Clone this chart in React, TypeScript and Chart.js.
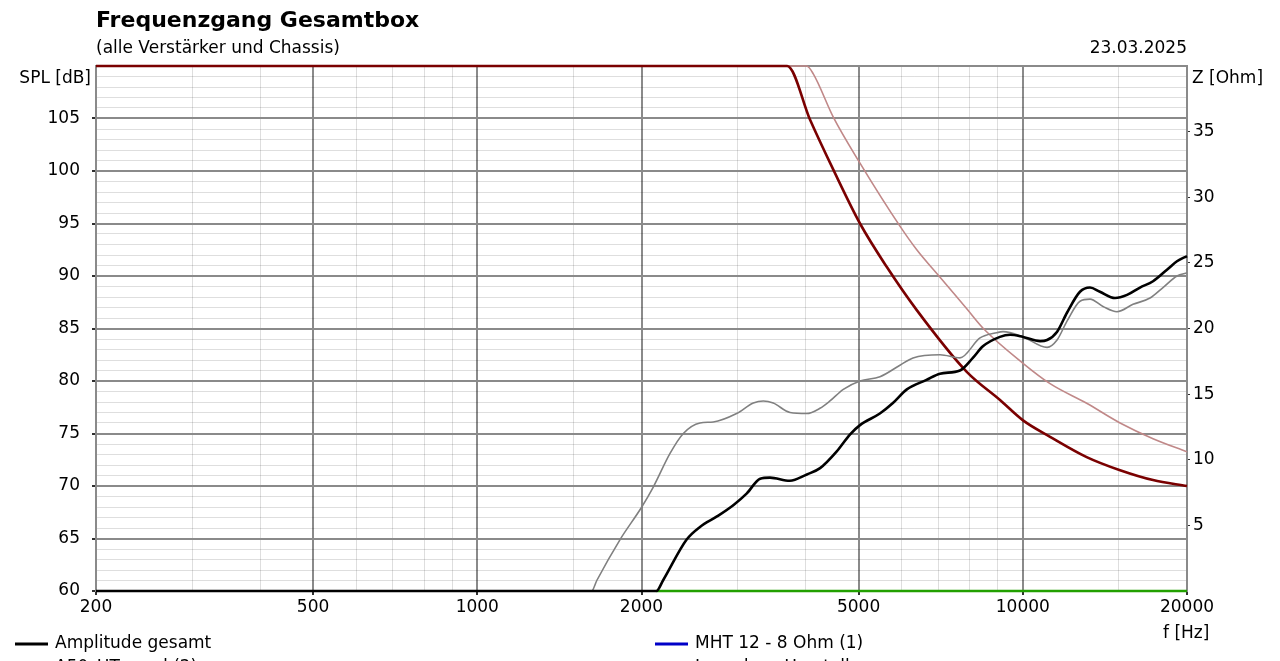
import React, { useEffect, useRef } from 'react';
import { Chart, registerables } from 'chart.js';

Chart.register(...registerables);

const FONT = '"DejaVu Sans", Verdana, sans-serif';

// ---- text ----
const titleText = 'Frequenzgang Gesamtbox';
const subtitleText = '(alle Verstärker und Chassis)';
const dateText = '23.03.2025';
const yLeftTitle = 'SPL [dB]';
const yRightTitle = 'Z [Ohm]';
const xTitle = 'f [Hz]';

// ---- ticks ----
const xMajorTicks = [200, 500, 1000, 2000, 5000, 10000, 20000];
const xMinorTicks = [300, 400, 600, 700, 800, 900, 1500, 3000, 4000, 6000, 7000, 8000, 9000, 15000];
const splMin = 60;
const splMax = 110;
const splLabelTicks = [60, 65, 70, 75, 80, 85, 90, 95, 100, 105];
const zMin = 0;
const zMax = 40;
const zLabelTicks = [5, 10, 15, 20, 25, 30, 35];

// ---- series: Amplitude gesamt (SPL) ----
const ampFreq = [200, 2130, 2190, 2420, 2560, 2750, 2950, 3120, 3300, 3440, 3740, 4020, 4250, 4560, 4820, 5030, 5470, 5780, 6130, 6660, 7050, 7670, 8100, 8450, 9080, 9480, 10010, 10760, 11080, 11560, 12050, 12730, 13280, 13850, 14760, 15530, 16400, 17330, 18380, 19170, 20000];
const ampDb = [60, 60, 61.0, 64.9, 66.1, 67.1, 68.2, 69.3, 70.7, 70.8, 70.5, 71.1, 71.7, 73.3, 74.9, 75.8, 76.9, 77.9, 79.2, 80.1, 80.7, 81.0, 82.2, 83.3, 84.2, 84.4, 84.2, 83.8, 83.9, 84.7, 86.5, 88.5, 88.9, 88.5, 87.9, 88.2, 88.9, 89.5, 90.6, 91.4, 91.9];

// ---- series: A50 HT (SPL) ----
const htFreq = [200, 1620, 1656, 1827, 2002, 2102, 2256, 2386, 2560, 2708, 2988, 3206, 3344, 3488, 3744, 4016, 4248, 4432, 4688, 5030, 5472, 5954, 6292, 7052, 7670, 8348, 8958, 9200, 10010, 11080, 11556, 12052, 12732, 13282, 14030, 14884, 15924, 17110, 18072, 19174, 20000];
const htDb = [60, 60, 61.0, 64.9, 68.0, 69.9, 73.1, 75.0, 76.0, 76.1, 76.9, 77.9, 78.1, 77.9, 77.0, 76.9, 77.4, 78.1, 79.2, 80.0, 80.4, 81.5, 82.2, 82.5, 82.2, 84.1, 84.6, 84.7, 84.2, 83.2, 83.9, 85.7, 87.6, 87.8, 87.1, 86.6, 87.3, 87.9, 88.9, 90.0, 90.3];

// ---- series: green (SPL, at floor) ----
const greenFreq = [2130, 20000];
const greenDb = [60, 60];

// ---- series: impedance gesamt (Ohm) ----
const zFreq = [200, 3700, 4074, 4494, 5030, 5630, 6392, 7894, 9084, 10010, 11220, 13096, 15078, 17328, 20000];
const zOhm = [40, 40, 35.9, 32.1, 28.0, 24.7, 21.4, 16.7, 14.55, 13.0, 11.75, 10.2, 9.2, 8.45, 8.0];

// ---- series: impedance second (Ohm) ----
const z2Freq = [200, 4016, 4130, 4494, 5030, 5954, 6392, 7052, 7894, 8466, 10010, 11220, 13096, 15078, 17328, 20000];
const z2Ohm = [40, 40, 39.4, 36.1, 32.6, 27.8, 26.0, 23.9, 21.5, 20.0, 17.35, 15.8, 14.3, 12.8, 11.6, 10.6];

// ---- legend ----
const legendLabels = ['Amplitude gesamt', 'MHT 12 - 8 Ohm (1)', 'A50_HT_rund (2)', 'Impedanz Hersteller'];
const legendColors = ['#000000', '#0000c8', '#808080', '#c08888'];

const MAJOR_GRID = '#8a8a8a';
const MINOR_GRID = 'rgba(0,0,0,0.13)';

const zip = (xs: number[], ys: number[]) => xs.map((x, i) => ({ x, y: ys[i] }));

const textPlugin = {
  id: 'customTexts',
  afterDraw(chart: any) {
    const c = chart.ctx as CanvasRenderingContext2D;
    c.save();
    c.fillStyle = '#000';
    c.textBaseline = 'alphabetic';
    c.textAlign = 'left';
    c.font = `bold 22px ${FONT}`;
    c.fillText(titleText, 96, 27);
    c.font = `17px ${FONT}`;
    c.fillText(subtitleText, 96, 53);
    c.textAlign = 'right';
    c.fillText(dateText, 1187, 53);
    c.fillText(yLeftTitle, 91, 83);
    c.textAlign = 'left';
    c.fillText(yRightTitle, 1192, 83);
    c.fillText(xTitle, 1163, 638);

    legendLabels.forEach((label, i) => {
      const col = i % 2;
      const row = Math.floor(i / 2);
      const x = col === 0 ? 15 : 655;
      const y = 644 + row * 24;
      c.strokeStyle = legendColors[i];
      c.lineWidth = 3;
      c.beginPath();
      c.moveTo(x, y);
      c.lineTo(x + 33, y);
      c.stroke();
      c.textBaseline = 'middle';
      c.textAlign = 'left';
      c.fillText(label, x + 40, y);
    });
    c.restore();
  },
};

export default function App() {
  const ref = useRef<HTMLCanvasElement>(null);

  useEffect(() => {
    if (!ref.current) return;
    const xAll = [...xMajorTicks, ...xMinorTicks].sort((a, b) => a - b);
    const splAll: number[] = [];
    for (let v = splMin; v <= splMax; v++) splAll.push(v);

    const chart = new Chart(ref.current, {
      type: 'line',
      data: {
        datasets: [
          {
            label: legendLabels[0],
            data: zip(ampFreq, ampDb),
            borderColor: '#000000',
            borderWidth: 2.6,
            yAxisID: 'y',
            order: 0,
          },
          {
            label: legendLabels[2],
            data: zip(htFreq, htDb),
            borderColor: '#808080',
            borderWidth: 1.6,
            yAxisID: 'y',
            order: 1,
          },
          {
            label: 'Impedanz gesamt',
            data: zip(zFreq, zOhm),
            borderColor: '#7a0000',
            borderWidth: 2.6,
            yAxisID: 'yZ',
            order: 2,
          },
          {
            label: legendLabels[3],
            data: zip(z2Freq, z2Ohm),
            borderColor: '#c08888',
            borderWidth: 1.6,
            yAxisID: 'yZ',
            order: 3,
          },
          {
            label: 'green',
            data: zip(greenFreq, greenDb),
            borderColor: '#22a000',
            borderWidth: 2.4,
            yAxisID: 'y',
            order: 4,
          },
        ].map((d) => ({
          ...d,
          pointRadius: 0,
          cubicInterpolationMode: 'monotone' as const,
          fill: false,
          clip: 5,
        })),
      },
      options: {
        animation: false,
        responsive: false,
        devicePixelRatio: 1,
        events: [],
        layout: { padding: { top: 66, left: 0, right: 0, bottom: 0 } },
        plugins: {
          legend: { display: false },
          title: { display: false },
          tooltip: { enabled: false },
        },
        scales: {
          x: {
            type: 'logarithmic',
            position: 'bottom',
            min: 200,
            max: 20000,
            afterBuildTicks: (scale: any) => {
              scale.ticks = xAll.map((v) => ({ value: v }));
            },
            afterFit: (scale: any) => {
              scale.height = 70;
            },
            ticks: {
              autoSkip: false,
              maxRotation: 0,
              minRotation: 0,
              padding: 2,
              color: '#000',
              font: { family: FONT, size: 17 },
              callback: (v: any) => (xMajorTicks.includes(Number(v)) ? String(v) : ''),
            },
            grid: {
              color: (ctx: any) => (xMajorTicks.includes(ctx.tick?.value) ? MAJOR_GRID : MINOR_GRID),
              lineWidth: (ctx: any) => (xMajorTicks.includes(ctx.tick?.value) ? 2 : 1),
              tickColor: (ctx: any) => (xMajorTicks.includes(ctx.tick?.value) ? '#303030' : 'rgba(0,0,0,0)'),
              tickLength: 4,
            },
            border: { display: true, color: MAJOR_GRID, width: 2 },
          },
          y: {
            type: 'linear',
            position: 'left',
            min: splMin,
            max: splMax,
            afterBuildTicks: (scale: any) => {
              scale.ticks = splAll.map((v) => ({ value: v }));
            },
            afterFit: (scale: any) => {
              scale.width = 96;
            },
            ticks: {
              autoSkip: false,
              padding: 12,
              color: '#000',
              font: { family: FONT, size: 17 },
              callback: (v: any) => (splLabelTicks.includes(Number(v)) ? String(v) : ''),
            },
            grid: {
              color: (ctx: any) => (ctx.tick && ctx.tick.value % 5 === 0 ? MAJOR_GRID : MINOR_GRID),
              lineWidth: (ctx: any) => (ctx.tick && ctx.tick.value % 5 === 0 ? 2 : 1),
              tickColor: (ctx: any) => (ctx.tick && ctx.tick.value % 5 === 0 && ctx.tick.value < splMax ? '#303030' : 'rgba(0,0,0,0)'),
              tickLength: 4,
            },
            border: { display: true, color: MAJOR_GRID, width: 2 },
          },
          yZ: {
            type: 'linear',
            position: 'right',
            min: zMin,
            max: zMax,
            afterBuildTicks: (scale: any) => {
              scale.ticks = zLabelTicks.map((v) => ({ value: v }));
            },
            afterFit: (scale: any) => {
              scale.width = 93;
            },
            ticks: {
              autoSkip: false,
              padding: 3,
              color: '#000',
              font: { family: FONT, size: 17 },
              callback: (v: any) => String(v),
            },
            grid: {
              drawOnChartArea: false,
              tickColor: '#303030',
              tickLength: 3,
            },
            border: { display: true, color: MAJOR_GRID, width: 2 },
          },
        },
      },
      plugins: [textPlugin],
    } as any);

    return () => chart.destroy();
  }, []);

  return (
    <div style={{ position: 'fixed', left: 0, top: 0, width: 1280, height: 661, overflow: 'hidden', background: '#fff' }}>
      <canvas ref={ref} width={1280} height={661} style={{ display: 'block', width: 1280, height: 661 }} />
    </div>
  );
}
